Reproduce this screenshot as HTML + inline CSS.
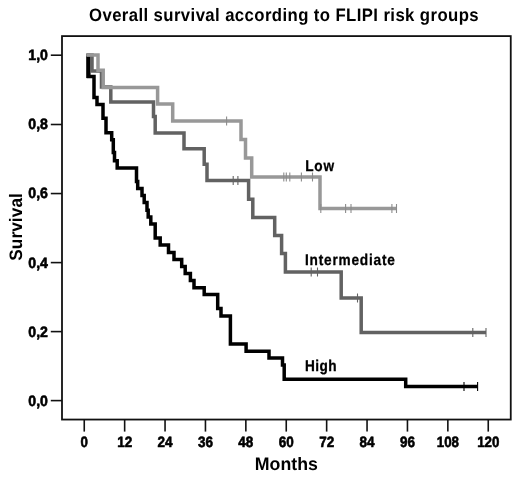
<!DOCTYPE html>
<html><head><meta charset="utf-8"><title>Overall survival according to FLIPI risk groups</title>
<style>
html,body{margin:0;padding:0;background:#fff;}
body{width:520px;height:477px;overflow:hidden;font-family:"Liberation Sans",sans-serif;}
svg{display:block;will-change:transform;filter:blur(0.35px);}
text{font-family:"Liberation Sans",sans-serif;font-weight:bold;fill:#000;}
.tk{font-size:15.0px;text-rendering:geometricPrecision;stroke:#000;stroke-width:0.6px;stroke-linejoin:round;}
.lb{font-size:15.5px;letter-spacing:0.9px;text-rendering:geometricPrecision;stroke:#000;stroke-width:0.3px;}
.tt{font-size:18px;text-rendering:geometricPrecision;}
</style></head><body>
<svg width="520" height="477" viewBox="0 0 520 477">
<rect x="0" y="0" width="520" height="477" fill="#fff"/>
<rect x="62.0" y="36.1" width="448.75" height="383.45" fill="none" stroke="#111" stroke-width="1.8"/>
<line x1="84.25" y1="419.55" x2="84.25" y2="431.6" stroke="#111" stroke-width="1.6"/>
<text x="84.25" y="446.7" class="tk" text-anchor="middle" textLength="7.4" lengthAdjust="spacingAndGlyphs">0</text>
<line x1="124.65" y1="419.55" x2="124.65" y2="431.6" stroke="#111" stroke-width="1.6"/>
<text x="124.65" y="446.7" class="tk" text-anchor="middle" textLength="15.0" lengthAdjust="spacingAndGlyphs">12</text>
<line x1="165.05" y1="419.55" x2="165.05" y2="431.6" stroke="#111" stroke-width="1.6"/>
<text x="165.05" y="446.7" class="tk" text-anchor="middle" textLength="15.0" lengthAdjust="spacingAndGlyphs">24</text>
<line x1="205.45" y1="419.55" x2="205.45" y2="431.6" stroke="#111" stroke-width="1.6"/>
<text x="205.45" y="446.7" class="tk" text-anchor="middle" textLength="15.0" lengthAdjust="spacingAndGlyphs">36</text>
<line x1="245.85" y1="419.55" x2="245.85" y2="431.6" stroke="#111" stroke-width="1.6"/>
<text x="245.85" y="446.7" class="tk" text-anchor="middle" textLength="15.0" lengthAdjust="spacingAndGlyphs">48</text>
<line x1="286.25" y1="419.55" x2="286.25" y2="431.6" stroke="#111" stroke-width="1.6"/>
<text x="286.25" y="446.7" class="tk" text-anchor="middle" textLength="15.0" lengthAdjust="spacingAndGlyphs">60</text>
<line x1="326.65" y1="419.55" x2="326.65" y2="431.6" stroke="#111" stroke-width="1.6"/>
<text x="326.65" y="446.7" class="tk" text-anchor="middle" textLength="15.0" lengthAdjust="spacingAndGlyphs">72</text>
<line x1="367.05" y1="419.55" x2="367.05" y2="431.6" stroke="#111" stroke-width="1.6"/>
<text x="367.05" y="446.7" class="tk" text-anchor="middle" textLength="15.0" lengthAdjust="spacingAndGlyphs">84</text>
<line x1="407.45" y1="419.55" x2="407.45" y2="431.6" stroke="#111" stroke-width="1.6"/>
<text x="407.45" y="446.7" class="tk" text-anchor="middle" textLength="15.0" lengthAdjust="spacingAndGlyphs">96</text>
<line x1="447.85" y1="419.55" x2="447.85" y2="431.6" stroke="#111" stroke-width="1.6"/>
<text x="447.85" y="446.7" class="tk" text-anchor="middle" textLength="22.2" lengthAdjust="spacingAndGlyphs">108</text>
<line x1="488.25" y1="419.55" x2="488.25" y2="431.6" stroke="#111" stroke-width="1.6"/>
<text x="488.25" y="446.7" class="tk" text-anchor="middle" textLength="22.2" lengthAdjust="spacingAndGlyphs">120</text>
<line x1="50.8" y1="55.2" x2="62.0" y2="55.2" stroke="#111" stroke-width="1.6"/>
<text x="47.9" y="60.1" class="tk" text-anchor="end" textLength="19.6" lengthAdjust="spacingAndGlyphs">1,0</text>
<line x1="50.8" y1="124.5" x2="62.0" y2="124.5" stroke="#111" stroke-width="1.6"/>
<text x="47.9" y="129.4" class="tk" text-anchor="end" textLength="19.6" lengthAdjust="spacingAndGlyphs">0,8</text>
<line x1="50.8" y1="193.55" x2="62.0" y2="193.55" stroke="#111" stroke-width="1.6"/>
<text x="47.9" y="198.45" class="tk" text-anchor="end" textLength="19.6" lengthAdjust="spacingAndGlyphs">0,6</text>
<line x1="50.8" y1="262.6" x2="62.0" y2="262.6" stroke="#111" stroke-width="1.6"/>
<text x="47.9" y="267.5" class="tk" text-anchor="end" textLength="19.6" lengthAdjust="spacingAndGlyphs">0,4</text>
<line x1="50.8" y1="331.6" x2="62.0" y2="331.6" stroke="#111" stroke-width="1.6"/>
<text x="47.9" y="336.5" class="tk" text-anchor="end" textLength="19.6" lengthAdjust="spacingAndGlyphs">0,2</text>
<line x1="50.8" y1="400.6" x2="62.0" y2="400.6" stroke="#111" stroke-width="1.6"/>
<text x="47.9" y="405.5" class="tk" text-anchor="end" textLength="19.6" lengthAdjust="spacingAndGlyphs">0,0</text>
<polyline points="86.5,55.5 88.4,55.5 88.4,76.4 94,76.4 94,97.5 97,97.5 97,104.5 103,104.5 103,118.3 106,118.3 106,132.8 111.7,132.8 111.7,139.7 113.3,139.7 113.3,152.6 114.5,152.6 114.5,160.8 117.2,160.8 117.2,168 136.5,168 136.5,181.5 137.7,181.5 137.7,188.5 142,188.5 142,195.5 144.2,195.5 144.2,202.6 147,202.6 147,210.2 148.2,210.2 148.2,217 150.8,217 150.8,224 155.2,224 155.2,238 160.2,238 160.2,245 168.5,245 168.5,252.6 174,252.6 174,259.6 181.7,259.6 181.7,266.5 185.2,266.5 185.2,273.4 190.4,273.4 190.4,280.5 194,280.5 194,287.7 204.2,287.7 204.2,294.5 217.7,294.5 217.7,308.5 221,308.5 221,316 230.4,316 230.4,344 246.1,344 246.1,351.3 269,351.3 269,358 282.5,358 282.5,365 284.2,365 284.2,379.3 405.7,379.3 405.7,386.6 477.6,386.6" fill="none" stroke="#000" stroke-width="3.5" stroke-linejoin="miter" stroke-linecap="butt"/>
<rect x="86.3" y="56" width="4.2" height="22" fill="#000"/>
<line x1="464" y1="382.1" x2="464" y2="391.1" stroke="#000" stroke-width="1.1"/><line x1="477.6" y1="382.1" x2="477.6" y2="391.1" stroke="#000" stroke-width="1.1"/>
<polyline points="86.5,55 92,55 92,71 101.5,71 101.5,87 110.8,87 110.8,102.1 153.5,102.1 153.5,116.5 155.2,116.5 155.2,133 184,133 184,148.8 204.2,148.8 204.2,164.3 207,164.3 207,180.6 248.6,180.6 248.6,199.3 252.8,199.3 252.8,217.5 274.7,217.5 274.7,235.6 281.6,235.6 281.6,253.5 285.4,253.5 285.4,272 341.2,272 341.2,298 361.2,298 361.2,332.6 486,332.6" fill="none" stroke="#626262" stroke-width="3.5" stroke-linejoin="miter" stroke-linecap="butt"/>
<line x1="233.2" y1="176.1" x2="233.2" y2="185.1" stroke="#636363" stroke-width="1.1"/><line x1="237.9" y1="176.1" x2="237.9" y2="185.1" stroke="#636363" stroke-width="1.1"/><line x1="311.2" y1="267.5" x2="311.2" y2="276.5" stroke="#636363" stroke-width="1.1"/><line x1="317.5" y1="267.5" x2="317.5" y2="276.5" stroke="#636363" stroke-width="1.1"/><line x1="357.5" y1="293.5" x2="357.5" y2="302.5" stroke="#636363" stroke-width="1.1"/><line x1="472.8" y1="328.1" x2="472.8" y2="337.1" stroke="#636363" stroke-width="1.1"/><line x1="486" y1="328.1" x2="486" y2="337.1" stroke="#636363" stroke-width="1.1"/>
<polyline points="86.5,55 98,55 98,70.3 103.2,70.3 103.2,87.5 157.6,87.5 157.6,104 172.7,104 172.7,121 241,121 241,139.4 245.5,139.4 245.5,158 251.7,158 251.7,177 320,177 320,208.5 396.5,208.5" fill="none" stroke="#989898" stroke-width="3.5" stroke-linejoin="miter" stroke-linecap="butt"/>
<line x1="226.6" y1="116.5" x2="226.6" y2="125.5" stroke="#8c8c8c" stroke-width="1.1"/><line x1="283.8" y1="172.5" x2="283.8" y2="181.5" stroke="#8c8c8c" stroke-width="1.1"/><line x1="286.3" y1="172.5" x2="286.3" y2="181.5" stroke="#8c8c8c" stroke-width="1.1"/><line x1="289.8" y1="172.5" x2="289.8" y2="181.5" stroke="#8c8c8c" stroke-width="1.1"/><line x1="301.4" y1="172.5" x2="301.4" y2="181.5" stroke="#8c8c8c" stroke-width="1.1"/><line x1="312.5" y1="172.5" x2="312.5" y2="181.5" stroke="#8c8c8c" stroke-width="1.1"/><line x1="320.8" y1="204" x2="320.8" y2="213" stroke="#8c8c8c" stroke-width="1.1"/><line x1="345.6" y1="204" x2="345.6" y2="213" stroke="#8c8c8c" stroke-width="1.1"/><line x1="351" y1="204" x2="351" y2="213" stroke="#8c8c8c" stroke-width="1.1"/><line x1="391.9" y1="204" x2="391.9" y2="213" stroke="#8c8c8c" stroke-width="1.1"/><line x1="396.5" y1="204" x2="396.5" y2="213" stroke="#8c8c8c" stroke-width="1.1"/>
<text transform="translate(305.2 171.2) scale(0.88 1)" class="lb">Low</text>
<text transform="translate(305.0 264.8) scale(0.88 1)" class="lb">Intermediate</text>
<text transform="translate(305.0 371.4) scale(0.88 1)" class="lb" style="letter-spacing:0.45px">High</text>
<text transform="translate(284.0 20.7) scale(0.93 1)" class="tt" text-anchor="middle" letter-spacing="0.43">Overall survival according to FLIPI risk groups</text>
<text transform="translate(286.3 470.3) scale(0.985 1)" class="tt" text-anchor="middle" letter-spacing="0">Months</text>
<text transform="translate(22 226.9) rotate(-90) scale(0.955 1)" class="tt" text-anchor="middle" letter-spacing="0.1">Survival</text>
</svg>
</body></html>
